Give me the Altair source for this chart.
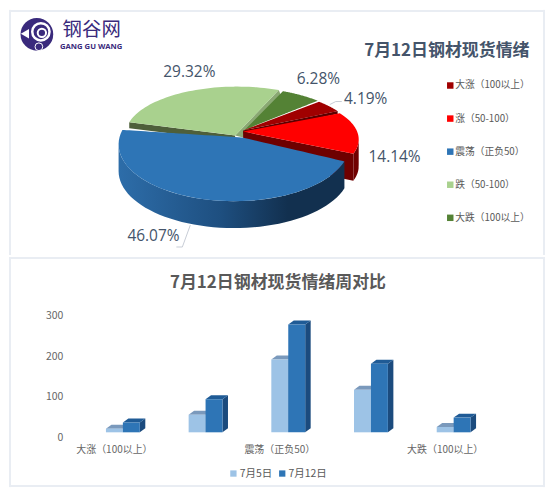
import math
import numpy as np
import pandas as pd
import altair as alt

# ---------- data ----------
CATS = ["大涨（100以上）", "涨（50-100）", "震荡（正负50）", "跌（50-100）", "大跌（100以上）"]
JUL12 = [24, 81, 264, 168, 36]
JUL5 = [9, 43, 178, 104, 13]
PCT_TEXT = ["4.19%", "14.14%", "46.07%", "29.32%", "6.28%"]
SERIES = ["7月5日", "7月12日"]
AXIS_CATS = [0, 2, 4]
Y_TICKS = [0, 100, 200, 300]

# ---------- style ----------
CN = "Noto Sans CJK SC"
PIE_COLORS = ["#A00000", "#FF0000", "#2E75B6", "#A9D18E", "#548235"]
BAR_FRONT = ["#9DC3E6", "#2E75B6"]
BAR_TOP = ["#7A99BC", "#1F5B96"]
BAR_SIDE = ["#6F93B9", "#1B4B7E"]
PAGE_W, TOP_H, BOT_H = 538, 246, 231
BORDER = "#E9EDF3"

# pie layout, page pixels: apex, ellipse centre, radii
GEOM = {
    0: dict(ap=(243, 129), c=(240, 137), r=(117, 50)),
    1: dict(ap=(243, 130), c=(243, 138), r=(116, 48)),
    2: dict(ap=(242, 136), c=(234, 143), r=(116, 57)),
    3: dict(ap=(235, 134), c=(237, 133), r=(112, 48)),
    4: dict(ap=(245, 128), c=(240, 136), r=(115, 50)),
}
START = 47
DEPTH = 27


def warp(t):
    return t - 6 * math.sin(math.radians(t))


total = sum(JUL12)
bounds = [START]
for v in JUL12:
    bounds.append(bounds[-1] + 360 * v / total)
spans = [(warp(bounds[i]), warp(bounds[i + 1])) for i in range(5)]


def rim(i, t):
    g = GEOM[i]
    a = math.radians(t)
    return (g["c"][0] + g["r"][0] * math.sin(a), g["c"][1] - g["r"][1] * math.cos(a))


def arc(i, t0, t1, n=50):
    return [rim(i, t) for t in np.linspace(t0, t1, n)]


def band(pts):
    """Convex polygon -> x / y / y2 rows for an area mark."""
    xs = sorted({round(p[0], 3) for p in pts})
    rows = []
    m = len(pts)
    for x in xs:
        ys = []
        for k in range(m):
            (x0, y0), (x1, y1) = pts[k], pts[(k + 1) % m]
            if min(x0, x1) - 0.002 <= x <= max(x0, x1) + 0.002:
                if abs(x1 - x0) < 1e-6:
                    ys += [y0, y1]
                else:
                    f = min(1, max(0, (x - x0) / (x1 - x0)))
                    ys.append(y0 + f * (y1 - y0))
        rows.append(dict(x=x, y=min(ys), y2=max(ys)))
    return pd.DataFrame(rows)


xs_top = alt.Scale(domain=[8, 8 + PAGE_W], nice=False, zero=False)
ys_top = alt.Scale(domain=[8 + TOP_H, 8], nice=False, zero=False)
color_scale = alt.Scale(domain=CATS, range=PIE_COLORS)
pie_legend = alt.Legend(
    orient="none", legendX=438, legendY=71, title=None, symbolType="square", symbolSize=42,
    labelFont=CN, labelFontSize=9.8, labelColor="#595959", rowPadding=22.2, labelOffset=0,
    padding=0, symbolStrokeWidth=0,
)


def area(df, color):
    return alt.Chart(df).mark_area(color=color, opacity=1, interpolate="linear").encode(
        x=alt.X("x:Q", scale=xs_top, axis=None),
        y=alt.Y("y:Q", scale=ys_top, axis=None),
        y2="y2:Q",
    )


def face(i):
    g = GEOM[i]
    pts = [g["ap"]] + arc(i, *spans[i])
    df = band(pts).assign(name=CATS[i])
    return alt.Chart(df).mark_area(opacity=1, interpolate="linear").encode(
        x=alt.X("x:Q", scale=xs_top, axis=None),
        y=alt.Y("y:Q", scale=ys_top, axis=None),
        y2="y2:Q",
        color=alt.Color("name:N", scale=color_scale, legend=pie_legend),
    )


def wall(i, t0, t1, depth):
    rows = [dict(x=x, y=y, y2=y + depth) for x, y in arc(i, t0, t1)]
    return pd.DataFrame(rows)


def shift(p, dx, dy):
    return (p[0] + dx, p[1] + dy)


layers = []
# light green: left cut wall, right cut wall, face
lg0, lg1 = rim(3, spans[3][0]), rim(3, spans[3][1])
ap3 = GEOM[3]["ap"]
layers.append(area(band([lg0, ap3, shift(ap3, 0, 6), shift(lg0, 0, 6)]), "#4E5F3A"))
layers.append(area(band([ap3, lg1, shift(lg1, 2, 5), shift(ap3, 8, 2)]), "#8AA873"))
layers.append(face(3))
layers.append(face(4))
# dark red
dr1 = rim(0, spans[0][1])
ap0 = GEOM[0]["ap"]
layers.append(area(band([ap0, dr1, shift(dr1, 0, 3), shift(ap0, 0, 3)]), "#5A0000"))
layers.append(face(0))
# red
r1 = rim(1, spans[1][1])
ap1 = GEOM[1]["ap"]
layers.append(area(wall(1, 88, spans[1][1], DEPTH), "#700000"))
layers.append(area(band([ap1, r1, shift(r1, 0, DEPTH), shift(ap1, 0, DEPTH)]), "#6E0000"))
layers.append(face(1))
# blue
blue_grad = alt.Gradient(
    gradient="linear", x1=0, x2=1, y1=0, y2=0,
    stops=[
        alt.GradientStop(offset=0, color="#2D6DA9"),
        alt.GradientStop(offset=0.45, color="#1E4F80"),
        alt.GradientStop(offset=0.75, color="#12304F"),
        alt.GradientStop(offset=1, color="#12304F"),
    ],
)
layers.append(area(wall(2, spans[2][0], 270, DEPTH), blue_grad))
layers.append(face(2))


def label(text, x, y, size, color, font, weight="normal"):
    return alt.Chart(pd.DataFrame({"t": [text]})).mark_text(
        font=font, fontSize=size, color=color, fontWeight=weight, align="center", baseline="middle"
    ).encode(text="t:N", x=alt.value(x - 8), y=alt.value(y))


def top_label(text, x, y, size, color, font, weight="normal"):
    return label(text, x, y - 8, size, color, font, weight)


def leader(pts):
    df = pd.DataFrame({"x": [p[0] for p in pts], "y": [p[1] for p in pts], "o": range(len(pts))})
    return alt.Chart(df).mark_line(color="#C8CDD6", strokeWidth=1).encode(
        x=alt.X("x:Q", scale=xs_top, axis=None),
        y=alt.Y("y:Q", scale=ys_top, axis=None),
        order="o:Q",
    )


layers += [leader([(190, 224), (182, 246), (176, 246)]), leader([(330, 103), (336, 100), (342, 100)])]

PCT_POS = [(366, 97), (395, 156), (153, 235), (189, 70), (318.5, 77)]
for t, (px, py) in zip(PCT_TEXT, PCT_POS):
    layers.append(top_label(t, px, py, 15.5, "#44546A", "Open Sans"))

layers.append(top_label("7月12日钢材现货情绪", 447.5, 49, 17, "#44546A", CN, "bold"))

# logo
PURPLE = "#3A2A7C"


def dot(x, y, size, fill=None, stroke=None, sw=0, shape="circle", angle=0):
    kw = dict(shape=shape, size=size, opacity=1, angle=angle)
    if fill:
        kw.update(fill=fill, filled=True)
    if stroke:
        kw.update(stroke=stroke, strokeWidth=sw, filled=False)
    return alt.Chart(pd.DataFrame({"a": [0]})).mark_point(**kw).encode(
        x=alt.value(x - 8), y=alt.value(y - 8)
    )


layers += [
    dot(36, 32.5, 1075, fill=PURPLE),
    dot(40, 30, 300, stroke="white", sw=2.5),
    dot(41, 31, 70, stroke="white", sw=2),
    dot(24, 32, 90, fill="white", shape="triangle-left"),
    dot(38, 45, 60, stroke="white", sw=1),
]
layers.append(top_label("钢谷网", 91, 28.5, 19.5, PURPLE, CN))
layers.append(top_label("GANG GU WANG", 90.5, 45.5, 7.7, PURPLE, "Open Sans", "bold"))


# panel borders (as close to the reference as the page margin allows)
def trule(**enc):
    return alt.Chart(pd.DataFrame({"a": [0]})).mark_rule(color=BORDER, strokeWidth=2).encode(**enc)


top = alt.layer(
    trule(x=alt.value(PAGE_W - 1), y=alt.value(0), y2=alt.value(TOP_H)),
    trule(x=alt.value(1), y=alt.value(0), y2=alt.value(TOP_H)),
    trule(x=alt.value(0), x2=alt.value(PAGE_W), y=alt.value(1)),
    *layers,
).properties(width=PAGE_W, height=TOP_H)

# ---------- bars ----------
STEP = 83
X0_PAGE = 122.3
xs_bot = alt.Scale(domain=[(8 - X0_PAGE) / STEP, (8 + PAGE_W - X0_PAGE) / STEP], nice=False, zero=False)
PX_PER_UNIT = 0.41
ZERO_Y = 430 - 254
ys_bot = alt.Scale(domain=[(ZERO_Y - BOT_H) / PX_PER_UNIT, ZERO_Y / PX_PER_UNIT], nice=False, zero=False)
W = 17 / STEP
DX = 5.5 / STEP
DY = 4 / PX_PER_UNIT

bar_color = alt.Scale(domain=SERIES, range=BAR_FRONT)
label_expr = "{0:'%s',2:'%s',4:'%s'}[datum.value]" % (CATS[0], CATS[2], CATS[4])
x_axis = alt.Axis(
    values=AXIS_CATS, labelExpr=label_expr, title=None, domain=False, ticks=False, grid=False,
    labelOffset=-9, offset=-43, labelPadding=0, labelFont=CN, labelFontSize=10, labelColor="#666666",
    labelOverlap=False, labelBound=False, labelFlush=False,
)
y_axis = alt.Axis(
    values=Y_TICKS, title=None, domain=False, ticks=False, grid=False, offset=-54, labelPadding=0,
    labelOffset=5.5, labelFont=CN, labelFontSize=10.5, labelColor="#666666", labelOverlap=False,
    labelBound=False, labelFlush=False,
)
bar_legend = alt.Legend(
    orient="none", legendX=220, legendY=212, direction="horizontal", title=None, symbolType="square",
    symbolSize=40, labelFont=CN, labelFontSize=10.5, labelColor="#595959", columnPadding=4,
    padding=0, labelOffset=1, symbolStrokeWidth=0,
)

bar_layers = []
X_ENC = alt.X("x:Q", scale=xs_bot, axis=x_axis)
Y_ENC = alt.Y("y:Q", scale=ys_bot, axis=y_axis)
for s, (name, vals) in enumerate(zip(SERIES, [JUL5, JUL12])):
    off = (s - 1) * W
    side_rows, top_rows, front_rows = [], [], []
    for i, v in enumerate(vals):
        x0 = i + off
        x1 = x0 + W
        side_rows += [dict(i=i, x=x1, y=0, y2=v), dict(i=i, x=x1 + DX, y=DY, y2=v + DY)]
        top_rows += [
            dict(i=i, x=x0, y=v, y2=v),
            dict(i=i, x=x0 + DX, y=v, y2=v + DY),
            dict(i=i, x=x1, y=v, y2=v + DY),
            dict(i=i, x=x1 + DX, y=v + DY, y2=v + DY),
        ]
        front_rows.append(dict(name=name, x=x0, x2=x1, y=0, y2=v))
    bar_layers.append(
        alt.Chart(pd.DataFrame(side_rows)).mark_area(color=BAR_SIDE[s], opacity=1).encode(
            x=X_ENC, y=Y_ENC, y2="y2:Q", detail="i:N")
    )
    bar_layers.append(
        alt.Chart(pd.DataFrame(top_rows)).mark_area(color=BAR_TOP[s], opacity=1).encode(
            x=X_ENC, y=Y_ENC, y2="y2:Q", detail="i:N")
    )
    bar_layers.append(
        alt.Chart(pd.DataFrame(front_rows)).mark_rect().encode(
            x=X_ENC,
            x2="x2:Q",
            y=Y_ENC,
            y2="y2:Q",
            color=alt.Color("name:N", scale=bar_color, legend=bar_legend),
        )
    )

bar_layers += [
    trule(x=alt.value(0), x2=alt.value(PAGE_W), y=alt.value(1)),
    trule(x=alt.value(0), x2=alt.value(PAGE_W), y=alt.value(BOT_H - 1)),
    trule(x=alt.value(PAGE_W - 1), y=alt.value(0), y2=alt.value(BOT_H)),
    trule(x=alt.value(1), y=alt.value(0), y2=alt.value(BOT_H)),
    label("7月12日钢材现货情绪周对比", 278, 280 - 254, 17, "#595959", CN, "bold"),
]

bottom = alt.layer(*bar_layers).properties(width=PAGE_W, height=BOT_H)

chart = (
    alt.vconcat(top, bottom, spacing=0)
    .resolve_scale(color="independent")
    .configure_view(stroke=None)
    .configure_concat(spacing=0)
    .properties(padding=0, background="white")
)
chart.save("out.html", embed_options={"renderer": "svg", "actions": False})
